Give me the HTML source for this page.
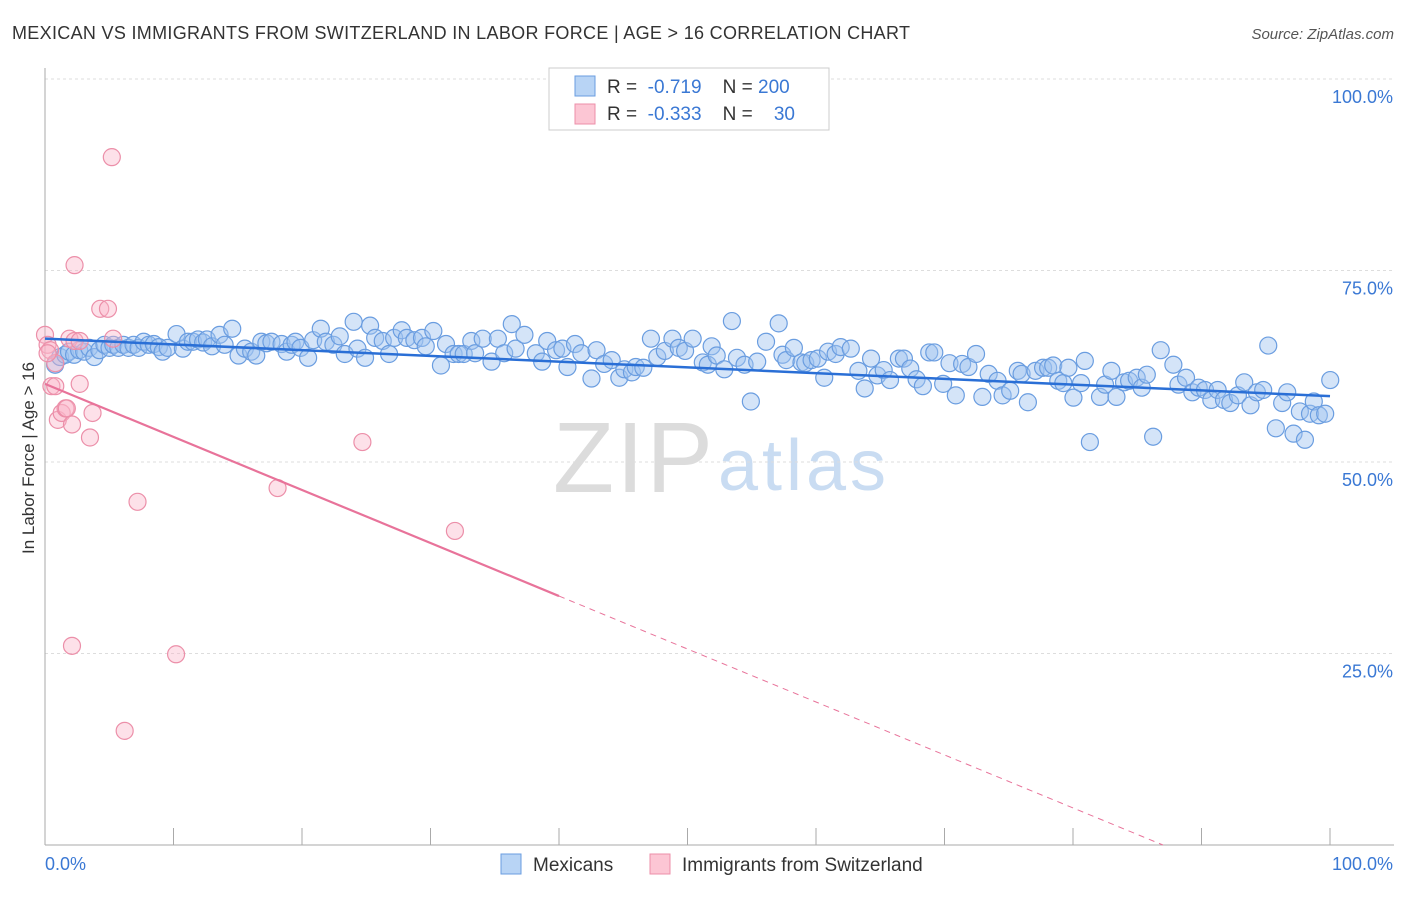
<!DOCTYPE html>
<html><head><meta charset="utf-8"><style>
body{margin:0;background:#fff;font-family:"Liberation Sans",sans-serif}
svg text{font-family:"Liberation Sans",sans-serif}
</style></head><body>
<svg id="c" width="1406" height="892">
<text x="12" y="39" font-size="18" fill="#333" textLength="898">MEXICAN VS IMMIGRANTS FROM SWITZERLAND IN LABOR FORCE | AGE &gt; 16 CORRELATION CHART</text>
<text x="1394" y="39" font-size="15" fill="#555" font-style="italic" text-anchor="end">Source: ZipAtlas.com</text>
<text x="34" y="458" font-size="17" fill="#333" text-anchor="middle" transform="rotate(-90 34 458)">In Labor Force | Age &gt; 16</text>
<text x="553" y="492" font-size="100" fill="#dcdcdc" font-family="Liberation Serif" textLength="160">ZIP</text>
<text x="718" y="490" font-size="72" fill="#c9dcf2" textLength="168">atlas</text>
<g id="grid"></g><g id="pts"></g><g id="lines"></g>
<g>
<rect x="549" y="68" width="280" height="62" fill="#fff" stroke="#ccc"/>
<rect x="575" y="76" width="20" height="20" fill="#b8d4f5" stroke="#6a9de0"/>
<text x="607" y="93" font-size="19" fill="#333" xml:space="preserve">R =  <tspan fill="#3a78d4">-0.719</tspan>    N = <tspan fill="#3a78d4">200</tspan></text>
<rect x="575" y="104" width="20" height="20" fill="#fcc6d4" stroke="#ec8fa9"/>
<text x="607" y="120" font-size="19" fill="#333" xml:space="preserve">R =  <tspan fill="#3a78d4">-0.333</tspan>    N =    <tspan fill="#3a78d4">30</tspan></text>
</g>
<g>
<rect x="501" y="854" width="20" height="20" fill="#b8d4f5" stroke="#6a9de0"/>
<text x="533" y="871" font-size="19" fill="#333">Mexicans</text>
<rect x="650" y="854" width="20" height="20" fill="#fcc6d4" stroke="#ec8fa9"/>
<text x="682" y="871" font-size="19" fill="#333">Immigrants from Switzerland</text>
</g>
</svg>
<script>
const blueX=[0.8,1.2,1.6,1.9,2.3,2.7,3.1,3.5,3.9,4.3,4.7,5.1,5.4,5.8,6.2,6.6,7,7.4,7.8,8.2,8.6,9,9.3,9.7,10.4,10.9,11.3,11.7,12.1,12.5,12.8,13.2,13.8,14.2,14.8,15.3,15.8,16.3,16.7,17.1,17.5,17.9,18.7,19.1,19.5,19.8,20.2,20.8,21.2,21.8,22.2,22.8,23.3,23.7,24.4,24.7,25.3,25.7,26.1,26.7,27.2,27.6,28.2,28.6,29.2,29.8,30.1,30.7,31.3,31.7,32.3,32.7,33.1,33.7,34,34.6,35.3,35.8,36.3,36.9,37.2,37.9,38.8,39.3,39.7,40.4,40.9,41.3,41.9,42.4,43.2,43.6,44.2,44.8,45.4,45.8,46.4,46.7,47.3,47.9,48.4,49,49.6,50.1,50.6,51.2,52,52.4,52.7,53.1,53.7,54.3,54.7,55.3,55.8,56.3,57,58,58.3,58.6,59.2,59.8,60.1,60.6,61.1,61.6,61.9,62.5,62.9,63.7,64.3,64.8,65.3,65.8,66.3,66.8,67.5,67.9,68.4,68.9,69.4,69.9,70.3,71,71.5,72,72.5,73,73.6,74.1,74.6,75.3,75.7,76.3,76.9,77.2,77.7,78.3,78.9,79.3,79.7,80.1,80.5,80.9,81.3,81.9,82.2,82.6,83.4,83.8,84.3,84.7,85.3,85.7,86.3,86.7,87.1,87.6,88.2,89.2,89.6,90.2,90.7,91.2,91.7,92.2,92.7,93.2,93.7,94.3,94.8,95.3,95.8,96.3,96.7,97.3,97.8,98.2,98.7,99.2,99.6,100,100.3,100.7,101.2,101.6];
const blueY=[62.7,63.7,64,64.4,64,64.6,64.4,64.9,63.7,64.6,65.3,64.9,65.3,64.9,65.3,64.9,65.3,64.9,65.7,65.3,65.4,65,64.4,64.9,66.7,64.8,65.7,65.7,66,65.6,66,65.1,66.6,65.3,67.4,63.9,64.8,64.4,63.9,65.7,65.5,65.7,65.4,64.4,65.3,65.7,64.9,63.6,65.9,67.4,65.7,65.3,66.4,64.1,68.3,64.8,63.6,67.8,66.2,65.8,64.1,66.2,67.2,66.2,65.9,66.2,65.1,67.1,62.6,65.4,64.1,64.1,64.1,65.8,64.2,66.1,63.1,66.1,64.2,68,64.8,66.6,64.2,63.1,65.8,64.6,64.8,62.4,65.4,64.2,60.9,64.6,62.8,63.3,61,62.1,61.7,62.4,62.3,66.1,63.7,64.5,66.1,64.9,64.5,66.1,63,62.7,65.1,63.9,62.1,68.4,63.6,62.7,57.9,63.1,65.7,68.1,64,63.3,64.9,63,62.9,63.3,63.5,61,64.4,64.1,65,64.8,61.9,59.6,63.5,61.3,62,60.7,63.5,63.5,62.2,60.8,59.9,64.3,64.3,60.2,62.9,58.7,62.8,62.4,64.1,58.5,61.5,60.6,58.7,59.3,61.9,61.5,57.8,61.9,62.3,62.3,62.6,60.6,60.3,62.3,58.4,60.3,63.2,52.6,58.5,60.1,61.9,58.5,60.4,60.6,61,59.7,61.4,53.3,64.6,62.7,60.1,61,59.1,59.7,59.4,58.1,59.4,58.1,57.7,58.7,60.4,57.4,59.1,59.4,65.2,54.4,57.7,59.1,53.7,56.6,52.9,56.3,57.9,56.1,56.3,60.7,53.7];
const pinkX=[0,0.2,0.4,0.5,0.8,1,1.3,1.6,1.7,1.9,2.3,2.1,2.7,2.7,3.5,3.7,4.3,4.9,5.2,5.3,2.3,2.1,6.2,7.2,10.2,18.1,24.7,31.9,0.2,0.8];
const pinkY=[66.6,65.3,64.6,59.9,62.9,55.5,56.4,57,57,66.1,65.8,54.9,60.2,65.8,53.2,56.4,70,70,89.8,66.1,75.7,26,14.9,44.8,24.9,46.6,52.6,41,64.2,59.9];
const X0=45,X1=1330,Y0=845,Y100=79;
const sx=v=>X0+(X1-X0)*v/100, sy=v=>Y0-(Y0-Y100)*v/100;
const bsx=v=>X0+(1310-X0)*v/100;
const NS='http://www.w3.org/2000/svg';
function mk(tag,attrs,parent){const e=document.createElementNS(NS,tag);for(const k in attrs)e.setAttribute(k,attrs[k]);parent.appendChild(e);return e;}
const grid=document.getElementById('grid');
const yTicks=[25,50,75,100];
yTicks.forEach(t=>{
 const l=mk('line',{x1:45,x2:1394,y1:sy(t),y2:sy(t),stroke:'#ddd','stroke-dasharray':'3,3'},grid);
 
 
 const tx=mk('text',{x:1393,y:sy(t)+24,'font-size':18,fill:'#3a78d4','text-anchor':'end'},grid);
 tx.textContent=t.toFixed(1)+'%';
 
 
});
mk('line',{x1:45,x2:45,y1:68,y2:845,stroke:'#aaa'},grid);
mk('line',{x1:45,x2:1394,y1:845,y2:845,stroke:'#aaa'},grid);
for(let i=0;i<=10;i++){mk('line',{x1:sx(i*10),x2:sx(i*10),y1:828,y2:845,stroke:'#aaa'},grid);}
const xl=mk('text',{x:45,y:870,'font-size':18,fill:'#3a78d4'},grid);xl.textContent='0.0%';


const xr=mk('text',{x:1393,y:870,'font-size':18,fill:'#3a78d4','text-anchor':'end'},grid);xr.textContent='100.0%';


const pts=document.getElementById('pts');
blueX.forEach((x,i)=>{const c=mk('circle',{cx:bsx(x),cy:sy(blueY[i]),r:8.5,fill:'rgba(160,195,240,0.45)',stroke:'#6a9de0','stroke-width':1.2},pts);
 
 });
pinkX.forEach((x,i)=>{const c=mk('circle',{cx:sx(x),cy:sy(pinkY[i]),r:8.5,fill:'rgba(250,180,200,0.4)',stroke:'#ec8fa9','stroke-width':1.2},pts);
 
 });
const lines=document.getElementById('lines');
const bl=mk('line',{x1:sx(0),y1:sy(66.1),x2:sx(100),y2:sy(58.6),stroke:'#2a6fd6','stroke-width':2.5},lines);


const pk=mk('line',{x1:sx(0),y1:sy(60.2),x2:sx(40),y2:sy(32.5),stroke:'#e8739a','stroke-width':2.2},lines);


const pd=mk('line',{x1:sx(40),y1:sy(32.5),x2:sx(87),y2:sy(0),stroke:'#e8739a','stroke-width':1,'stroke-dasharray':'6,5'},lines);


</script>
</body></html>
